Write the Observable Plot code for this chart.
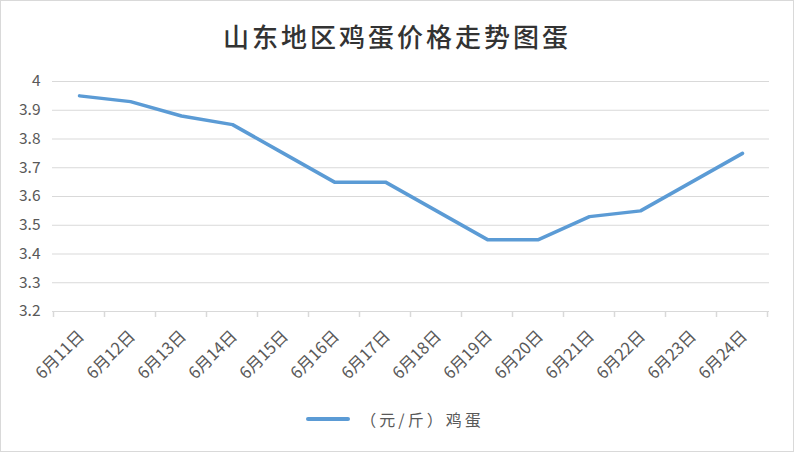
<!DOCTYPE html>
<html>
<head>
<meta charset="utf-8">
<script src="https://cdn.jsdelivr.net/npm/d3@7"></script>
<script src="https://cdn.jsdelivr.net/npm/@observablehq/plot@0.6"></script>
<style>
  html, body { margin: 0; padding: 0; background: #fff; }
  #frame { width: 794px; height: 452px; box-sizing: border-box; border: 1px solid #d9d9d9; position: relative; overflow: hidden; font-family: "Noto Sans CJK SC", "Noto Sans", sans-serif; }
  #title { height: 59px; box-sizing: border-box; padding-top: 17px; text-align: center; font-size: 26px; line-height: 36px; color: #333; font-family: "Noto Sans CJK SC", serif; letter-spacing: 3px; font-weight: 500; }
  #chart svg { display: block; }
  #legend { height: 50px; display: flex; align-items: center; justify-content: center; font-size: 16px; color: #595959; gap: 10px; margin-top: -6px; padding-right: 4px; }
  #legend .sw { width: 44px; height: 4px; background: #5B9BD5; border-radius: 2px; }
  #legend .t { letter-spacing: 3px; }
</style>
</head>
<body>
<div id="frame">
  <div id="title">山东地区鸡蛋价格走势图蛋</div>
  <div id="chart"></div>
  <div id="legend"><span class="sw"></span><span class="t">（元/斤）鸡蛋</span></div>
</div>
<script>
const dates = ["6月11日","6月12日","6月13日","6月14日","6月15日","6月16日","6月17日","6月18日","6月19日","6月20日","6月21日","6月22日","6月23日","6月24日"];
const prices = [3.95, 3.93, 3.88, 3.85, 3.75, 3.65, 3.65, 3.55, 3.45, 3.45, 3.53, 3.55, 3.65, 3.75];
const yTicks = [3.2, 3.3, 3.4, 3.5, 3.6, 3.7, 3.8, 3.9, 4];
const seriesName = "（元/斤）鸡蛋";

const data = dates.map((d, i) => ({date: d, price: prices[i]}));

const plot = Plot.plot({
  width: 792,
  height: 340,
  marginTop: 21,
  marginBottom: 89,
  marginLeft: 51,
  marginRight: 24,
  style: {fontFamily: "'Noto Sans CJK SC', 'Noto Sans', sans-serif", color: "#595959", background: "transparent"},
  x: {type: "point", domain: dates, padding: 0.5, label: null},
  y: {domain: [3.2, 4], ticks: yTicks, label: null},
  marks: [
    Plot.gridY(yTicks, {stroke: "#d9d9d9", strokeOpacity: 1, strokeWidth: 1}),
    Plot.axisY(yTicks, {tickSize: 0, tickPadding: 12, fontSize: 15.5, tickFormat: d => String(d), fill: "#595959"}),
    Plot.axisX({tickSize: 0, tickRotate: -45, tickPadding: 22, dx: 2, fontSize: 16.5, fill: "#595959"}),
    Plot.lineY(data, {x: "date", y: "price", stroke: "#5B9BD5", strokeWidth: 3.5, strokeLinecap: "round", strokeLinejoin: "round"})
  ]
});

// category boundary tick marks on the x axis, using the plot's own x scale
const xs = plot.scale("x");
const ysc = plot.scale("y");
const step = xs.step;
const svg = d3.select(plot);
const y0 = ysc.apply(3.2);
const bounds = [xs.apply(dates[0]) - step / 2].concat(dates.map(d => xs.apply(d) + step / 2));
const g = svg.append("g").attr("stroke", "#d9d9d9").attr("stroke-width", 1.5);
bounds.forEach(b => g.append("line").attr("x1", b).attr("x2", b).attr("y1", y0).attr("y2", y0 + 6));

document.getElementById("chart").appendChild(plot);
</script>
</body>
</html>
